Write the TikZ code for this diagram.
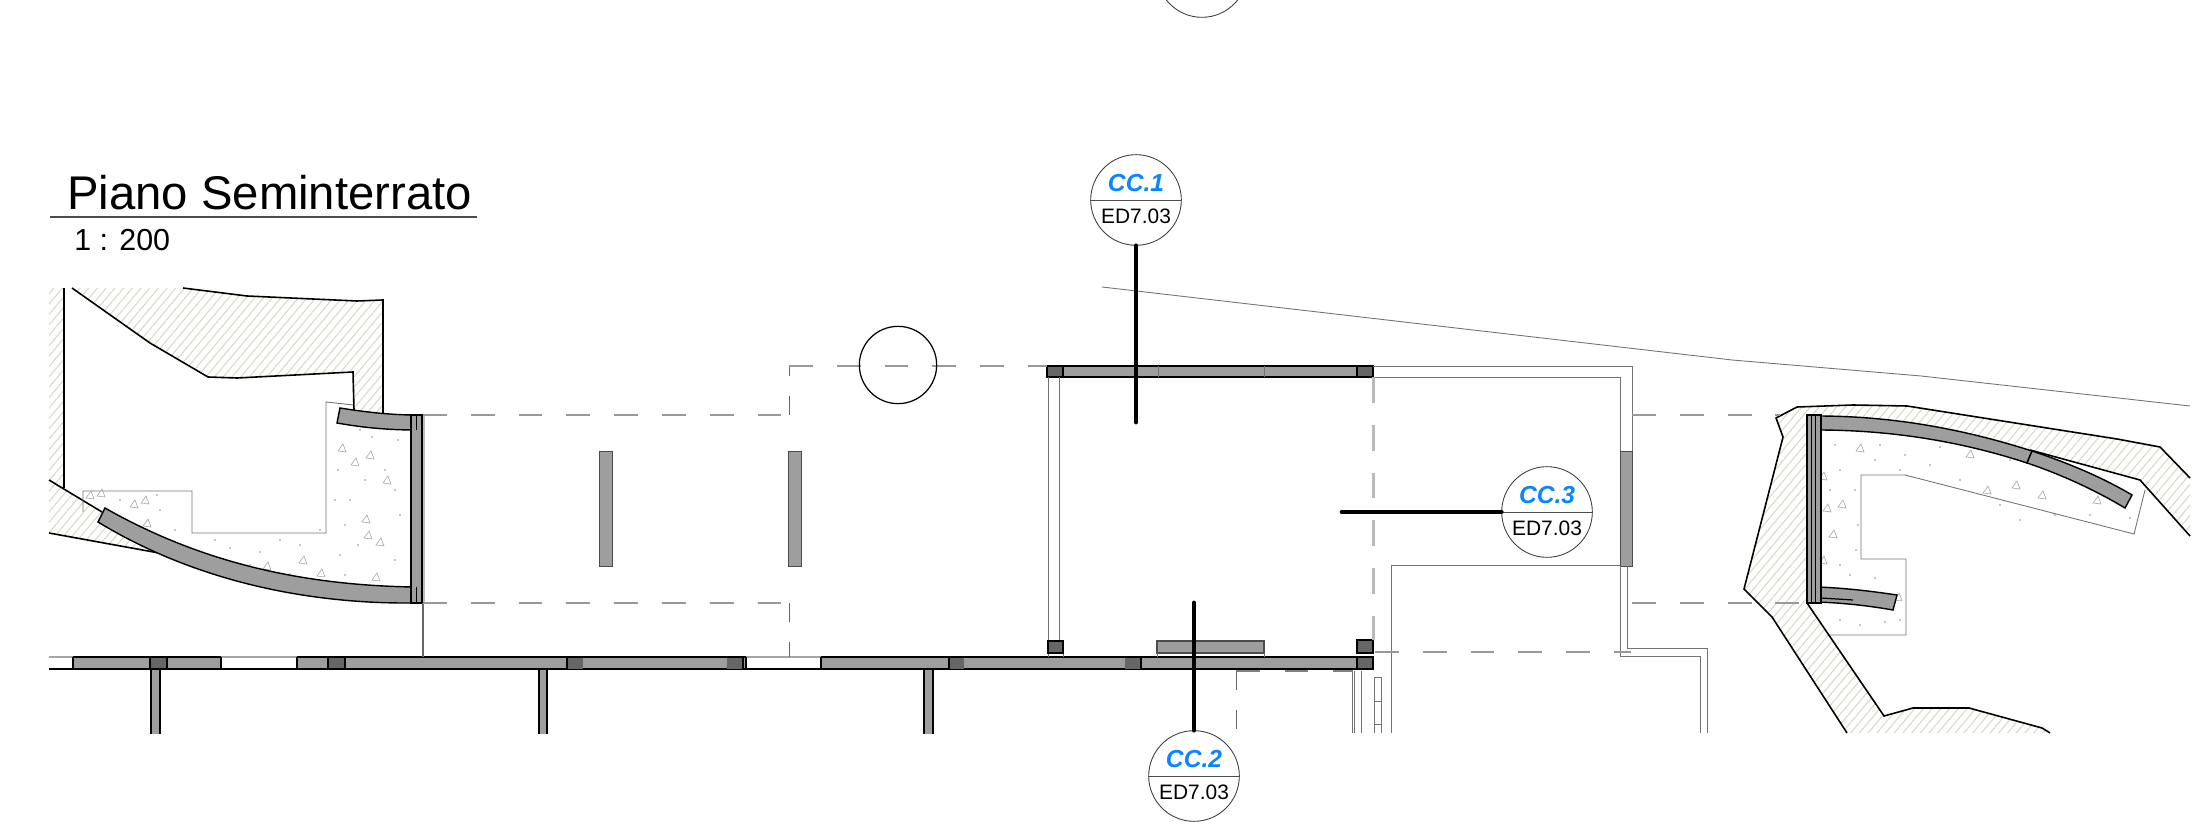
\documentclass[tikz,border=0pt]{standalone}
\usepackage{fontspec}
\setmainfont{Liberation Sans}
\usetikzlibrary{patterns.meta}
\definecolor{wallgray}{HTML}{9E9E9E}
\definecolor{coldark}{HTML}{666666}
\definecolor{hatchcol}{HTML}{D8D8C6}
\definecolor{ccblue}{HTML}{0A84FF}
\tikzset{
    hatched/.style={pattern={Lines[angle=50,distance=3.8pt,line width=.6pt]},pattern color=hatchcol},
    wall/.style={fill=wallgray,draw=black,line width=.8pt},
    column/.style={fill=coldark,draw=black,line width=.9pt},
    outline/.style={draw=black,line width=.9pt},
    thinline/.style={draw=black!55,line width=.5pt},
    hiddenline/.style={draw=black!40,line width=.8pt,dash pattern=on 13.6pt off 13.6pt},
    hiddenthin/.style={draw=black!60,line width=.5pt,dash pattern=on 11pt off 11pt},
    cutline/.style={draw=black,line width=2.7pt,line cap=round},
    marker/.style={circle,draw=black!75,fill=white,line width=.5pt,minimum size=51.6pt,inner sep=0pt},
    markertop/.style={font=\fontsize{14}{15}\selectfont\bfseries\itshape,text=ccblue,inner sep=0pt},
    markerbot/.style={font=\fontsize{11.9}{13}\selectfont,inner sep=0pt},
    speck/.style={draw=black!35,line width=.35pt}
}
\begin{document}
\begin{tikzpicture}[x=0.02cm,y=-0.02cm]
    \useasboundingbox (0,0) rectangle (2199,830);
    \clip (0,0) rectangle (2199,830);

    % Ground
    \fill[hatched] (72,288) -- (183,288) -- (247,296) -- (357,301) -- (383,300) -- (383,413) -- (354,410) -- (354,372) -- (237,378) -- (208,377) -- (150,343) -- cycle;
    \fill[hatched] (49,288) -- (64,288) -- (64,488) -- (49,480) -- cycle;
    \fill[hatched] (49,480) -- (102,512) -- (170,555) -- (49,533) -- cycle;
    \fill[hatched] (1847,733) -- (1772,617) -- (1744,589) -- (1783,437) -- (1776,418) -- (1797,407) -- (1853,405) -- (1907,406) -- (2117,439) -- (2160,447) -- (2190,478) -- (2190,536) -- (2140,480) -- (2030,450) -- (1960,430) -- (1893,419) -- (1807,415) -- (1807,603) -- (1884,716) -- (1913,708) -- (1969,708) -- (2042,728) -- (2050,733) -- cycle;
    \draw[outline] (183,288) -- (247,296) -- (357,301) -- (383,300) -- (383,413);
    \draw[outline] (72,288) -- (150,343) -- (208,377) -- (237,378) -- (353,372) -- (354,410);
    \draw[outline] (64,288) -- (64,488);
    \draw[outline] (49,480) -- (102,512);
    \draw[outline] (49,533) -- (170,555);
    \draw[outline] (1847,733) -- (1772,617) -- (1744,589) -- (1783,437) -- (1776,418) -- (1797,407) -- (1853,405) -- (1907,406) -- (2117,439) -- (2160,447) -- (2190,478);
    \draw[outline] (1807,603) -- (1884,716) -- (1913,708) -- (1969,708) -- (2042,728) -- (2050,733);
    \draw[outline] (2030,450) -- (2140,480) -- (2190,536);
    \draw[thinline] (1102,287) -- (1732,360) -- (1921,376) -- (2190,406);

    % Slabs
    \draw[thinline] (83,512) -- (83,491) -- (192,491) -- (192,533) -- (326,533) -- (326,402) -- (353,405);
    \draw[thinline] (2145,490) -- (2134,534) -- (1905,475) -- (1861,475) -- (1861,559) -- (1906,559) -- (1906,635) -- (1830,635);
    \foreach \tx/\ty in {370/455,355/462,342/448,387/480,366/519,368/535,380/542,303/560,147/523,134/504,145/500,90/495,101/493,267/566,321/573,376/577,
        1860/448,1970/454,1987/490,2016/485,2042/495,2097/500,1842/504,1827/508,1833/534,1823/560,1823/476,1898/597}{
        \draw[speck] (\tx,\ty) ++(-4,3) -- ++(8,1) -- ++(-3,-8) -- cycle;
    }
    \foreach \dx/\dy in {360/430,372/437,338/470,350/500,395/490,400/515,345/525,358/545,320/530,300/545,280/540,340/555,395/560,385/470,365/480,335/500,398/440,230/548,260/552,250/565,290/574,345/575,157/495,120/500,160/510,175/530,190/548,215/540,
        1850/430,1880/445,1905/455,1940/447,1985/445,2010/460,2055/470,2080/480,2115/490,2130/518,2055/515,2000/505,1960/480,1930/465,1900/470,1875/460,1835/445,1840/470,1855/490,1830/490,1858/525,1856/550,1840/565,1850/575,1835/590,1875/578,1865/600,1885/622,1860/625,1840/620,1900/620,2090/515,2020/520}{
        \fill[black!45] (\dx,\dy) circle (.9);
    }

    % Curved walls
    \draw[wall] (340,408) .. controls (365,412) and (390,415) .. (416,415) -- (416,430) .. controls (390,430) and (365,428) .. (337,423) -- cycle;
    \draw[wall] (105,508) .. controls (200,562) and (300,585) .. (413,587) -- (413,603) .. controls (300,604) and (190,578) .. (98,522) -- cycle;
    \draw[wall] (1817,416) .. controls (1890,416) and (1960,428) .. (2032,451) -- (2027,463) .. controls (1960,441) and (1890,430) .. (1817,430) -- cycle;
    \draw[wall] (2032,451) .. controls (2065,462) and (2100,476) .. (2132,495) -- (2125,508) .. controls (2095,490) and (2060,474) .. (2027,463) -- cycle;
    \draw[wall] (1817,587) .. controls (1845,588) and (1870,591) .. (1897,595) -- (1893,610) .. controls (1870,606) and (1845,603) .. (1817,602) -- cycle;
    \draw[draw=black,line width=.7pt] (1821,598) -- (1853,600);

    % Vertical walls
    \fill[wallgray!70] (422,415) rectangle (425,603);
    \draw[wall] (411,415) rectangle (422,603);
    \draw[black,line width=.5pt] (416,415) -- (416,430) (416,587) -- (416,603);
    \draw[wall] (1807,415) rectangle (1821,603);
    \draw[black,line width=.5pt] (1811,415) -- (1811,603) (1815,415) -- (1815,603);
    \draw[wall,line width=.5pt,draw=black!70] (599,451) rectangle (612,566);
    \draw[wall,line width=.5pt,draw=black!70] (788,451) rectangle (801,566);
    \draw[wall,line width=.5pt,draw=black!70] (1620,451) rectangle (1632,566);
    \foreach \sa/\sb in {151/160,539/547,924/933}{
        \fill[wallgray] (\sa,669) rectangle (\sb,734);
        \draw[black,line width=.7pt] (\sa,669) -- (\sa,734) (\sb,669) -- (\sb,734);
    }
    \draw[wall,draw=black!70] (1157,641) rectangle (1264,653);

    % Main wall
    \fill[wallgray] (73,657) rectangle (1373,669);
    \draw[black,line width=.9pt] (73,657) -- (1373,657) (49,669) -- (1373,669);
    \fill[white] (49,656) rectangle (73,668);
    \fill[white] (221,656) rectangle (297,668);
    \fill[white] (746,656) rectangle (821,668);
    \draw[black!35,line width=.9pt] (49,657) -- (73,657) (221,657) -- (297,657) (746,657) -- (821,657);
    \draw[black,line width=.6pt] (73,657) -- (73,669) (221,657) -- (221,669) (297,657) -- (297,669) (746,657) -- (746,669) (821,657) -- (821,669);
    \draw[column] (150,657) rectangle (167,669);
    \draw[column] (328,657) rectangle (345,669);
    \draw[column,draw=none] (567,658) rectangle (583,668.5);
    \draw[column,draw=none] (727,658) rectangle (743,668.5);
    \draw[column,draw=none] (949,658) rectangle (964,668.5);
    \draw[column,draw=none] (1125,658) rectangle (1141,668.5);
    \draw[column] (1357,657) rectangle (1373,669);
    \draw[column] (1357,640) rectangle (1373,653);
    \draw[black,line width=.9pt] (567,657) -- (567,669) (743,657) -- (743,669) (949,657) -- (949,669) (1141,657) -- (1141,669);

    % Room
    \draw[wall] (1047,366) rectangle (1373,377);
    \draw[column] (1047,366) rectangle (1063,377);
    \draw[column] (1357,366) rectangle (1373,377);
    \draw[thinline] (1158,366) -- (1158,377) (1264,366) -- (1264,377);
    \draw[thinline] (1048,377) -- (1048,641) (1059,377) -- (1059,641);
    \draw[thinline] (1048,653) -- (1048,657) (1063,653) -- (1063,657);
    \draw[column,line width=.8pt] (1048,641) rectangle (1063,653);
    \draw[thinline] (1373,366) -- (1632,366) -- (1632,451);
    \draw[thinline] (1373,377) -- (1620,377) -- (1620,451);
    \draw[thinline] (1620,565) -- (1391,565) -- (1391,733);
    \draw[thinline] (1620,566) -- (1620,656) -- (1700,656) -- (1700,733);
    \draw[thinline] (1627,566) -- (1627,648) -- (1707,648) -- (1707,733);
    \draw[thinline] (1157,653) -- (1157,657) (1264,653) -- (1264,657);
    \draw[thinline] (1352,671) -- (1352,733) (1354,671) -- (1354,733) (1361,671) -- (1361,733);
    \draw[thinline] (1374,677) -- (1381,677) -- (1381,733) (1374,677) -- (1374,733) (1374,701) -- (1381,701) (1374,724) -- (1381,724);
    \draw[draw=black!60,line width=.8pt] (423,603) -- (423,657);

    % Hidden lines
    \draw[hiddenline] (423,415) -- (789,415);
    \draw[hiddenline] (423,603) -- (789,603);
    \draw[hiddenthin] (789,415) -- (789,366);
    \draw[hiddenthin] (789,603) -- (789,657);
    \draw[hiddenline,line width=.6pt] (789,366) -- (1047,366);
    \draw[hiddenline,line width=1.7pt,draw=black!27,dash pattern=on 14.7pt off 12.5pt] (1373,377) -- (1373,640);
    \draw[hiddenline] (1375,652) -- (1631,652);
    \draw[hiddenline] (1632,415) -- (1780,415);
    \draw[hiddenline] (1632,603) -- (1807,603);
    \draw[black!50,line width=1pt,dash pattern=on 13.6pt off 14pt] (1236,671) -- (1353,671);
    \draw[hiddenthin] (1236,671) -- (1236,733);

    % Nodes
    \node (grid1) [circle,draw=black,line width=.7pt,minimum size=44pt,inner sep=0pt] at (898,365) {};
    \node (grid2) [marker] at (1202,-28) {};
    \node (cc1) [marker] at (1136,200) {};
    \node (cc2) [marker] at (1194,776) {};
    \node (cc3) [marker] at (1547,512) {};
    \node (cc1top) [markertop] at (1136,183) {CC.1};
    \node (cc1bot) [markerbot] at (1136,216) {ED7.03};
    \node (cc2top) [markertop] at (1194,759) {CC.2};
    \node (cc2bot) [markerbot] at (1194,792) {ED7.03};
    \node (cc3top) [markertop] at (1547,495) {CC.3};
    \node (cc3bot) [markerbot] at (1547,528) {ED7.03};
    \coordinate (cc1end) at (1136,422);
    \coordinate (cc2end) at (1194,603);
    \coordinate (cc3end) at (1342,512);
    \node (title) [anchor=base west,inner sep=0pt,font=\fontsize{26.9}{30}\selectfont] at (67,210) {Piano Seminterrato};
    \node (scale) [anchor=base west,inner sep=0pt,font=\fontsize{17.3}{20}\selectfont] at (74,251) {1 : 200};
    \coordinate (rulea) at (50,217);
    \coordinate (ruleb) at (477,217);

    % Edges
    \draw[black!70,line width=.6pt] (rulea) -- (ruleb);
    \draw[draw=black!70,line width=.5pt] (cc1.west) -- (cc1.east);
    \draw[draw=black!70,line width=.5pt] (cc2.west) -- (cc2.east);
    \draw[draw=black!70,line width=.5pt] (cc3.west) -- (cc3.east);
    \draw[cutline] (cc1.south) -- (cc1end);
    \draw[cutline] (cc2.north) -- (cc2end);
    \draw[cutline] (cc3.west) -- (cc3end);
\end{tikzpicture}
\end{document}
